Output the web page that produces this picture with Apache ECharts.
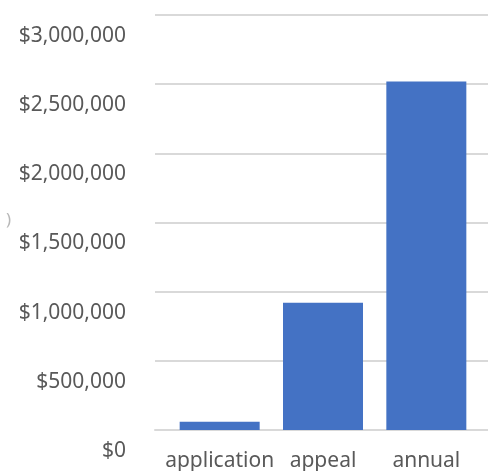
<!DOCTYPE html>
<html>
<head>
<meta charset="utf-8">
<script src="https://cdn.jsdelivr.net/npm/echarts@6/dist/echarts.min.js"></script>
<style>
html,body{margin:0;padding:0;background:#fff;}
#chart{width:488px;height:471px;}
</style>
</head>
<body>
<div id="chart"></div>
<script>
var categories = ['application', 'appeal', 'annual'];
var amounts = [60000, 920000, 2520000];
var yMax = 3000000;
var yStep = 500000;

var myChart = echarts.init(document.getElementById('chart'));
var option = {
	animation: false,
	//0: bars, 1: gridlines (wider than the bars), 2: y labels (sit ~21px below their line)
	grid: [
		{left: 168, right: 10, top: 15, bottom: 41, outerBoundsMode: 'none'},
		{left: 155, right: 0, top: 15, bottom: 41, outerBoundsMode: 'none'},
		{left: 168, right: 10, top: 36, bottom: 20, outerBoundsMode: 'none'}
	],
	xAxis: [{
		type: 'category',
		gridIndex: 0,
		data: categories,
		axisTick: {show: false},
		axisLine: {show: false},
		axisLabel: {
			color: '#595959',
			fontFamily: 'Noto Sans',
			fontSize: 21,
			margin: 21,
			interval: 0
		}
	}, {
		type: 'category',
		gridIndex: 1,
		data: categories,
		axisTick: {show: false},
		axisLabel: {show: false},
		axisLine: {lineStyle: {color: '#d9d9d9', width: 2}}
	}, {
		type: 'category',
		gridIndex: 2,
		data: categories,
		show: false
	}],
	yAxis: [{
		type: 'value',
		gridIndex: 0,
		min: 0,
		max: yMax,
		interval: yStep,
		show: false
	}, {
		type: 'value',
		gridIndex: 1,
		min: 0,
		max: yMax,
		interval: yStep,
		axisLine: {show: false},
		axisTick: {show: false},
		axisLabel: {show: false},
		splitLine: {lineStyle: {color: '#d9d9d9', width: 2}}
	}, {
		type: 'value',
		gridIndex: 2,
		min: 0,
		max: yMax,
		interval: yStep,
		axisLine: {show: false},
		axisTick: {show: false},
		splitLine: {show: false},
		axisLabel: {
			color: '#595959',
			fontFamily: 'Noto Sans',
			fontSize: 21,
			margin: 42,
			showMinLabel: true,
			showMaxLabel: true,
			formatter: function (v) {
				return '$' + v.toLocaleString('en-US');
			}
		}
	}],
	graphic: [{
		type: 'text',
		left: 6,
		top: 212,
		style: {text: ')', fill: '#b8b8b8', font: '17px "Noto Sans"'}
	}],
	series: [{
		type: 'bar',
		xAxisIndex: 0,
		yAxisIndex: 0,
		data: amounts,
		barWidth: 80,
		itemStyle: {color: '#4472c4'}
	}]
};
myChart.setOption(option);
</script>
</body>
</html>
